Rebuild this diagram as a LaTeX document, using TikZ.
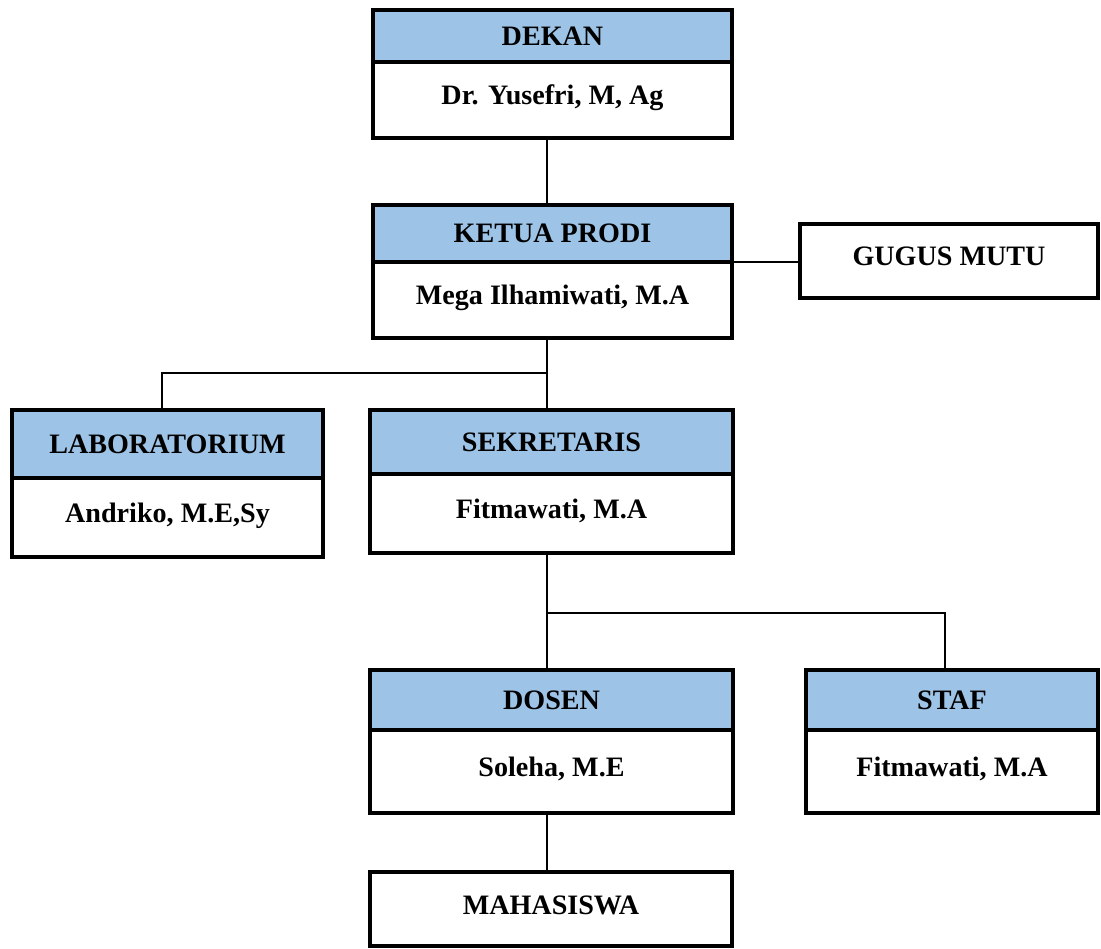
\documentclass[tikz,border=0pt]{standalone}
\usepackage{fontspec}
\setmainfont{Liberation Serif}
\definecolor{headblue}{RGB}{157,195,230}

\begin{document}
\begin{tikzpicture}[x=0.02cm, y=-0.02cm,
    head/.style={rectangle, draw, line width=2.2pt, fill=headblue, outer sep=0pt, font=\bfseries\fontsize{16}{19}\selectfont},
    body/.style={rectangle, draw, line width=2.2pt, fill=white, outer sep=0pt, text height=0.42cm, text depth=0.22cm, font=\bfseries\fontsize{16}{19}\selectfont},
    link/.style={line width=0.6pt}]
      \useasboundingbox (0,0) rectangle (1101,949);

      \node[head, minimum width=7.18cm, minimum height=1.04cm] (dekan) at (552.5,36) {DEKAN};
      \node[body, minimum width=7.18cm, minimum height=1.52cm, anchor=north] (dekanname) at (dekan.south) {Dr. Yusefri, M, Ag};
      \node[head, minimum width=7.18cm, minimum height=1.14cm] (ketua) at (552.5,233.5) {KETUA PRODI};
      \node[body, minimum width=7.18cm, minimum height=1.52cm, anchor=north] (ketuaname) at (ketua.south) {Mega Ilhamiwati, M.A};
      \node[body, minimum width=5.96cm, minimum height=1.48cm] (gugus) at (949,261) {GUGUS MUTU};
      \node[head, minimum width=6.22cm, minimum height=1.36cm] (lab) at (167.5,444) {LABORATORIUM};
      \node[body, minimum width=6.22cm, minimum height=1.58cm, anchor=north] (labname) at (lab.south) {Andriko, M.E,Sy};
      \node[head, minimum width=7.26cm, minimum height=1.28cm] (sekr) at (551.5,442) {SEKRETARIS};
      \node[body, minimum width=7.26cm, minimum height=1.58cm, anchor=north] (sekrname) at (sekr.south) {Fitmawati, M.A};
      \node[head, minimum width=7.26cm, minimum height=1.2cm] (dosen) at (551.5,700) {DOSEN};
      \node[body, minimum width=7.26cm, minimum height=1.66cm, anchor=north] (dosenname) at (dosen.south) {Soleha, M.E};
      \node[head, minimum width=5.84cm, minimum height=1.2cm] (staf) at (952,700) {STAF};
      \node[body, minimum width=5.84cm, minimum height=1.66cm, anchor=north] (stafname) at (staf.south) {Fitmawati, M.A};
      \node[body, minimum width=7.24cm, minimum height=1.48cm] (mahasiswa) at (551,909) {MAHASISWA};

      \coordinate (fork1) at (547,373);
      \coordinate (fork2) at (547,613);

      \draw[link] ([xshift=-0.11cm]dekanname.south) -- ([xshift=-0.11cm]ketua.north);
      \draw[link] (ketua.south east) -- (ketua.south east -| gugus.west);
      \draw[link] (fork1 |- ketuaname.south) -- (fork1) -| ([xshift=-0.11cm]lab.north);
      \draw[link] (fork2 |- sekrname.south) -- (fork2) -| ([xshift=-0.14cm]staf.north);
      \foreach \upper/\lower in {fork1/sekr, fork2/dosen, dosenname/mahasiswa}
        \draw[link] (fork1 |- \upper.south) -- (fork1 |- \lower.north);
    \end{tikzpicture}
\end{document}
